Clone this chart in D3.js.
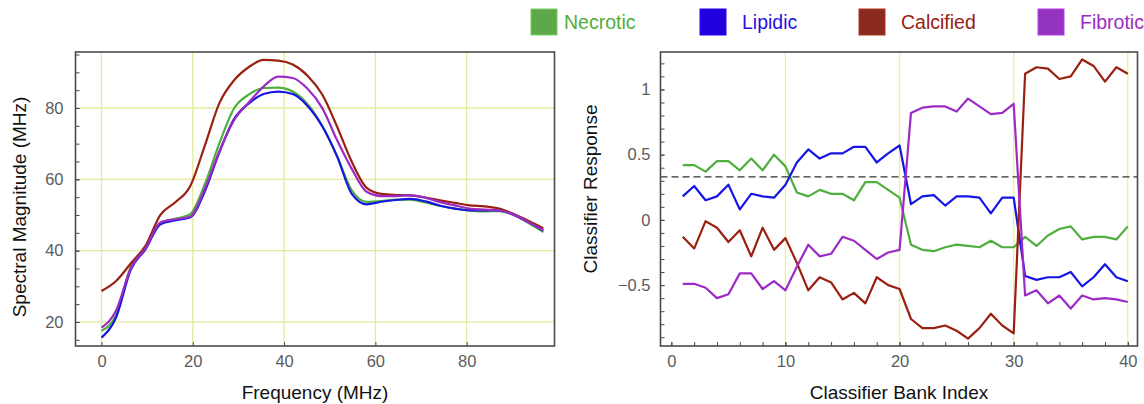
<!DOCTYPE html>
<html>
<head>
<meta charset="utf-8">
<script src="https://cdn.jsdelivr.net/npm/d3@7"></script>
<style>
  body { margin: 0; background: #fff; }
  svg text { font-family: "Liberation Sans", Arial, sans-serif; }
</style>
</head>
<body>
<svg id="chart" width="1144" height="404"></svg>
<script>
// ---- data ----
var classes = ["Necrotic", "Lipidic", "Calcified", "Fibrotic"];
var lineColors = ["#4fae3e", "#1616e4", "#9a2012", "#9c2bc6"];
var boxColors = ["#5ea84a", "#2000dc", "#8a2a1e", "#9433c0"];
var textColors = ["#4fae3e", "#2a10e0", "#9a2012", "#9c2bc6"];

// left panel: spectral magnitude vs frequency
var freq = [0, 3.2, 6.4, 9.7, 12.9, 16.1, 19.4, 22.6, 25.8, 29.0, 32.3, 35.5, 38.7, 41.9, 45.2,
  48.4, 51.6, 54.8, 58.1, 61.3, 64.5, 67.7, 71.0, 74.2, 77.4, 80.6, 83.9, 87.1, 90.3, 93.5, 96.8];
var specNecrotic = [17.5, 22.0, 35.5, 41.0, 47.8, 48.9, 50.2, 58.5, 70.0, 79.8, 83.8, 85.6, 85.7, 84.6, 81.0,
  74.9, 66.5, 57.0, 53.7, 53.9, 54.3, 54.3, 53.5, 52.6, 51.8, 51.3, 51.0, 51.1, 50.0, 47.8, 45.2];
var specLipidic = [15.6, 21.3, 34.6, 40.5, 47.4, 48.5, 49.3, 56.5, 67.5, 76.8, 81.3, 83.9, 84.6, 83.9, 80.5,
  74.8, 66.5, 56.0, 53.0, 53.7, 54.2, 54.5, 53.8, 52.6, 51.8, 51.3, 51.3, 51.3, 50.1, 48.0, 45.6];
var specCalcified = [28.7, 31.5, 36.4, 41.5, 50.0, 53.5, 58.0, 69.3, 81.3, 87.7, 91.5, 93.5, 93.3, 92.2, 89.0,
  83.7, 74.8, 65.0, 57.6, 55.9, 55.6, 55.5, 54.9, 54.1, 53.4, 52.7, 52.4, 51.8, 50.3, 48.4, 46.3];
var specFibrotic = [18.4, 23.2, 35.0, 40.8, 47.9, 48.8, 49.5, 57.2, 67.8, 76.5, 81.6, 86.0, 88.8, 88.4, 85.3,
  79.9, 71.0, 63.0, 56.5, 55.3, 55.3, 55.5, 54.8, 53.6, 52.7, 51.8, 51.5, 51.3, 50.1, 48.0, 45.8];

// right panel: classifier response vs bank index
var bankIndex = d3.range(1, 41);
var respNecrotic = [0.42, 0.42, 0.37, 0.45, 0.45, 0.38, 0.47, 0.38, 0.50, 0.41,
  0.21, 0.18, 0.23, 0.20, 0.20, 0.15, 0.29, 0.29, 0.23, 0.17,
  -0.19, -0.23, -0.24, -0.21, -0.19, -0.20, -0.21, -0.16, -0.21, -0.21,
  -0.13, -0.20, -0.12, -0.07, -0.05, -0.15, -0.13, -0.13, -0.15, -0.05];
var respLipidic = [0.18, 0.26, 0.15, 0.18, 0.27, 0.08, 0.20, 0.18, 0.17, 0.27,
  0.44, 0.54, 0.47, 0.51, 0.51, 0.56, 0.56, 0.44, 0.51, 0.57,
  0.12, 0.18, 0.19, 0.11, 0.18, 0.18, 0.17, 0.05, 0.17, 0.17,
  -0.43, -0.46, -0.44, -0.44, -0.40, -0.51, -0.44, -0.34, -0.44, -0.47];
var respCalcified = [-0.13, -0.22, -0.01, -0.06, -0.17, -0.08, -0.28, -0.06, -0.23, -0.14,
  -0.33, -0.54, -0.44, -0.48, -0.61, -0.56, -0.64, -0.44, -0.50, -0.53,
  -0.76, -0.83, -0.83, -0.81, -0.85, -0.91, -0.83, -0.72, -0.81, -0.87,
  1.12, 1.17, 1.16, 1.08, 1.10, 1.23, 1.18, 1.06, 1.17, 1.12];
var respFibrotic = [-0.49, -0.49, -0.52, -0.60, -0.57, -0.41, -0.41, -0.53, -0.47, -0.54,
  -0.36, -0.19, -0.28, -0.26, -0.13, -0.16, -0.23, -0.30, -0.25, -0.23,
  0.82, 0.86, 0.87, 0.87, 0.83, 0.93, 0.87, 0.81, 0.82, 0.89,
  -0.58, -0.54, -0.64, -0.58, -0.68, -0.58, -0.61, -0.60, -0.61, -0.63];
var threshold = 0.33;

var specSeries = [specNecrotic, specLipidic, specCalcified, specFibrotic];
var respSeries = [respNecrotic, respLipidic, respCalcified, respFibrotic];

// ---- layout ----
var svg = d3.select("#chart");
var top_ = 52, bottom = 346;
var frameColor = "#4a4a4a";
var tickColor = "#5c5c5c";

function panel(opt) {
  var g = svg.append("g");
  var x = d3.scaleLinear().domain(opt.xDomain).range([opt.left, opt.right]);
  var y = d3.scaleLinear().domain(opt.yDomain).range([bottom, top_]);

  // grid
  g.selectAll(".vg").data(opt.xGrid).enter().append("line")
    .attr("x1", function(d){ return x(d); }).attr("x2", function(d){ return x(d); })
    .attr("y1", top_).attr("y2", bottom)
    .attr("stroke", opt.gridColor).attr("stroke-width", 1.3);
  g.selectAll(".hg").data(opt.yGrid).enter().append("line")
    .attr("x1", opt.left).attr("x2", opt.right)
    .attr("y1", function(d){ return y(d); }).attr("y2", function(d){ return y(d); })
    .attr("stroke", opt.gridColor).attr("stroke-width", 1.3);

  // minor ticks (inside)
  g.append("g").attr("transform", "translate(0," + bottom + ")")
    .call(d3.axisBottom(x).tickValues(opt.xMinor).tickSizeInner(-4).tickSizeOuter(0).tickFormat(""))
    .call(function(a){ a.select(".domain").remove(); a.selectAll("line").attr("stroke", frameColor); });
  g.append("g").attr("transform", "translate(" + opt.left + ",0)")
    .call(d3.axisLeft(y).tickValues(opt.yMinor).tickSizeInner(-4).tickSizeOuter(0).tickFormat(""))
    .call(function(a){ a.select(".domain").remove(); a.selectAll("line").attr("stroke", frameColor); });

  // labelled ticks
  var ax = g.append("g").attr("transform", "translate(0," + bottom + ")")
    .call(d3.axisBottom(x).tickValues(opt.xTicks).tickSizeInner(-4).tickSizeOuter(0).tickPadding(9));
  var ay = g.append("g").attr("transform", "translate(" + opt.left + ",0)")
    .call(d3.axisLeft(y).tickValues(opt.yTicks).tickSizeInner(-4).tickSizeOuter(0).tickPadding(opt.yPad)
      .tickFormat(opt.yFormat));
  [ax, ay].forEach(function(a){
    a.select(".domain").remove();
    a.selectAll("line").attr("stroke", frameColor);
    a.selectAll("text").attr("fill", tickColor).style("font-size", "16.5px")
      .style("font-family", "'Liberation Sans', Arial, sans-serif");
  });

  if (opt.extra) opt.extra(g, x, y);

  // series
  var line = d3.line()
    .curve(opt.curve)
    .x(function(d){ return x(d[0]); })
    .y(function(d){ return y(d[1]); });
  opt.series.forEach(function(vals, i){
    g.append("path")
      .datum(opt.xs.map(function(xv, k){ return [xv, vals[k]]; }))
      .attr("d", line)
      .attr("fill", "none")
      .attr("stroke", lineColors[i])
      .attr("stroke-width", 2.2)
      .attr("stroke-linejoin", "round");
  });

  // frame
  g.append("rect")
    .attr("x", opt.left).attr("y", top_)
    .attr("width", opt.right - opt.left).attr("height", bottom - top_)
    .attr("fill", "none").attr("stroke", frameColor).attr("stroke-width", 1.6);

  // titles
  g.append("text").attr("x", (opt.left + opt.right) / 2).attr("y", 399)
    .attr("text-anchor", "middle").style("font-size", "19px").attr("fill", "#111")
    .text(opt.xTitle);
  g.append("text")
    .attr("transform", "translate(" + opt.yTitleX + "," + opt.yTitleY + ") rotate(-90)")
    .attr("text-anchor", "middle").style("font-size", "19px").attr("fill", "#111")
    .text(opt.yTitle);
}

panel({
  left: 75.5, right: 554.5,
  xDomain: [-5.7, 99.25], yDomain: [13.26, 95.7],
  xTicks: [0, 20, 40, 60, 80], xMinor: [],
  yTicks: [20, 40, 60, 80], yMinor: d3.range(15, 96, 5),
  yPad: 12, yFormat: d3.format("d"),
  xGrid: [0, 20, 40, 60, 80], yGrid: [20, 40, 60, 80], gridColor: "#e2ec9c",
  xs: freq, series: specSeries, curve: d3.curveMonotoneX,
  xTitle: "Frequency (MHz)", yTitle: "Spectral Magnitude (MHz)",
  yTitleX: 26, yTitleY: 207
});

panel({
  left: 660.5, right: 1137.5,
  xDomain: [-0.95, 40.85], yDomain: [-0.967, 1.287],
  xTicks: [0, 10, 20, 30, 40], xMinor: d3.range(0, 41, 2),
  yTicks: [-0.5, 0, 0.5, 1], yMinor: d3.range(-9, 13).map(function(d){ return d / 10; }),
  yPad: 10, yFormat: function(d){ return d < 0 ? "\u2212" + Math.abs(d) : String(d); },
  xGrid: [10, 20, 30, 40], yGrid: [], gridColor: "#eef28a",
  xs: bankIndex, series: respSeries, curve: d3.curveLinear,
  xTitle: "Classifier Bank Index", yTitle: "Classifier Response",
  yTitleX: 597, yTitleY: 189,
  extra: function(g, x, y){
    g.append("line")
      .attr("x1", 660.5).attr("x2", 1137.5)
      .attr("y1", y(threshold)).attr("y2", y(threshold))
      .attr("stroke", "#333").attr("stroke-width", 1.4)
      .attr("stroke-dasharray", "7,4");
  }
});

// legend
var legendX = [531, 700, 859, 1038];
var lg = svg.append("g");
classes.forEach(function(c, i){
  lg.append("rect").attr("x", legendX[i]).attr("y", 9).attr("width", 26).attr("height", 26)
    .attr("fill", boxColors[i]).attr("stroke", d3.color(boxColors[i]).brighter(0.6)).attr("stroke-width", 1);
  lg.append("text").attr("x", i === 0 ? 564 : legendX[i] + 42).attr("y", 29)
    .style("font-size", "19.5px").attr("fill", textColors[i])
    .text(c);
});
</script>
</body>
</html>
